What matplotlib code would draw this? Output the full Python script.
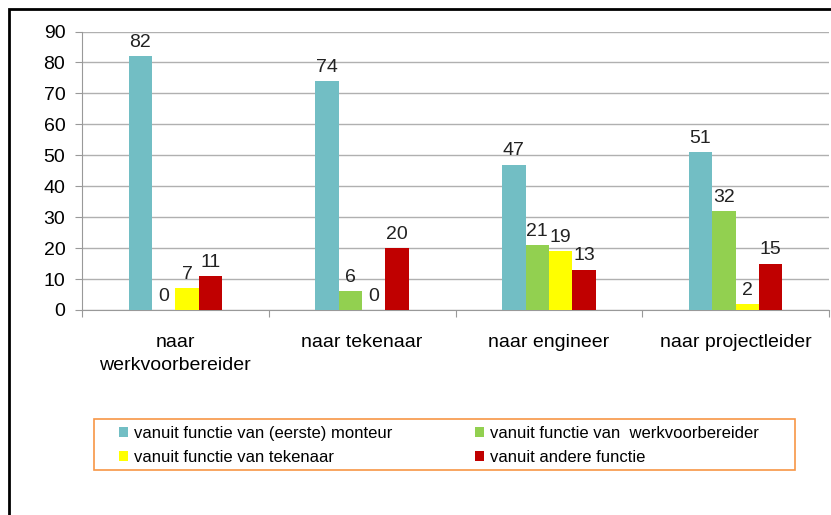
import matplotlib.pyplot as plt
import numpy as np
from matplotlib.patches import Rectangle

plt.rcParams['font.family'] = ['Liberation Sans', 'DejaVu Sans']

categories = ['naar\nwerkvoorbereider', 'naar tekenaar', 'naar engineer', 'naar projectleider']
series_names = ['vanuit functie van (eerste) monteur',
                'vanuit functie van  werkvoorbereider',
                'vanuit functie van tekenaar',
                'vanuit andere functie']
monteur = [82, 74, 47, 51]
werkvoorbereider = [0, 6, 21, 32]
tekenaar = [7, 0, 19, 2]
andere = [11, 20, 13, 15]
colors = ['#72BEC4', '#92D050', '#FFFF00', '#C00000']

series = [monteur, werkvoorbereider, tekenaar, andere]

W, H = 831, 515
fig = plt.figure(figsize=(W / 100, H / 100), dpi=100)
ax = fig.add_axes([82 / W, 1 - 310 / H, 747 / W, 278.5 / H])

x = np.arange(len(categories))
w = 0.125
handles = []
for i, (vals, col) in enumerate(zip(series, colors)):
    pos = x + (i - 1.5) * w
    b = ax.bar(pos, vals, w, color=col, zorder=3)
    handles.append(b)
    for p, v in zip(pos, vals):
        ax.text(p, v + 3.0, str(v), ha='center', va='baseline', fontsize=14, color='#222222')

ax.set_xlim(-0.5, 3.5)
ax.set_ylim(0, 90)
ax.set_yticks(range(0, 91, 10))
ax.set_xticks(np.arange(-0.5, 4, 1))
ax.set_xticklabels([])
ax.set_xticks(x, minor=True)
ax.set_xticklabels(categories, minor=True, fontsize=14, linespacing=1.5)
ax.tick_params(axis='x', which='minor', length=0, pad=17)
ax.tick_params(axis='x', which='major', length=5, color='#999999', direction='out')
ax.tick_params(axis='y', length=5, color='#999999', labelsize=14, pad=7)
ax.yaxis.grid(True, color='#B0B0B0', linewidth=1, zorder=0)
for s in ['top', 'right']:
    ax.spines[s].set_visible(False)
for s in ['left', 'bottom']:
    ax.spines[s].set_color('#999999')

# legend: row-major order like the original
order = [0, 2, 1, 3]
leg = fig.legend([handles[k] for k in order], [series_names[k] for k in order],
                 loc='upper left', bbox_to_anchor=(119 / W, 1 - 431 / H, 640 / W, 5 / H),
                 mode='expand', ncol=2, fontsize=12, frameon=False,
                 handlelength=0.55, handleheight=0.55, handletextpad=0.35,
                 borderaxespad=0, borderpad=0, labelspacing=0.55)

fig.patches.append(Rectangle((94 / W, 1 - 470 / H), 701 / W, 51 / H,
                             transform=fig.transFigure, fill=False,
                             edgecolor='#F79646', linewidth=1.2))
fig.patches.append(Rectangle((9 / W, -0.1), 1.2, 1 - 9 / H + 0.1,
                             transform=fig.transFigure, fill=False,
                             edgecolor='black', linewidth=2, zorder=0))

fig.savefig('out.png', dpi=100)
